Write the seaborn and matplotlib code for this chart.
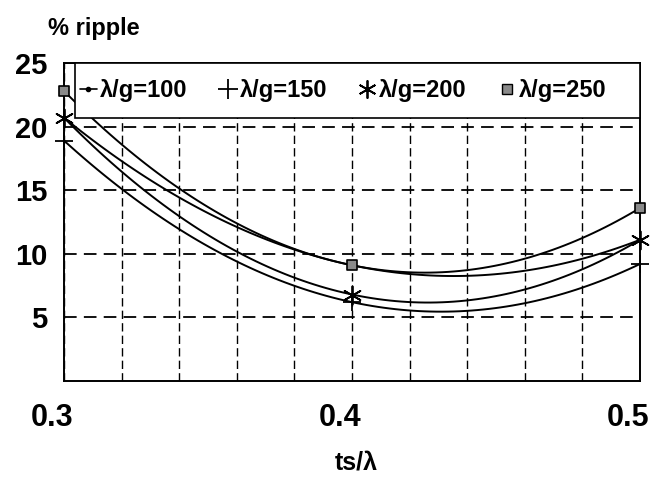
import numpy as np
import pandas as pd
import matplotlib
matplotlib.use("Agg")
import matplotlib.pyplot as plt
import matplotlib.transforms as mtransforms
import matplotlib.patches as mpatches
from matplotlib.lines import Line2D
import seaborn as sns

# ---- data ----
ts_ratio = [0.3, 0.4, 0.5]
ripple_100 = [20.7, 9.1, 11.1]
ripple_150 = [18.9, 6.2, 9.2]
ripple_200 = [20.7, 6.8, 11.1]
ripple_250 = [22.8, 9.1, 13.6]
series_labels = ["λ/g=100", "λ/g=150", "λ/g=200", "λ/g=250"]
x_ticks = [0.3, 0.4, 0.5]
x_tick_labels = ["0.3", "0.4", "0.5"]
y_ticks = [5, 10, 15, 20, 25]
y_tick_labels = ["5", "10", "15", "20", "25"]

sns.set_theme(style="white")
plt.rcParams["font.family"] = ["Liberation Sans", "DejaVu Sans"]
plt.rcParams["font.weight"] = "bold"
plt.rcParams["text.color"] = "black"
plt.rcParams["xtick.color"] = "black"
plt.rcParams["ytick.color"] = "black"
plt.rcParams["xtick.labelcolor"] = "black"
plt.rcParams["ytick.labelcolor"] = "black"

fig = plt.figure(figsize=(6.5, 4.79), dpi=100)
W, H = 650, 479
ax = fig.add_axes([64 / W, (H - 381) / H, (640 - 64) / W, (381 - 63) / H])

series = [ripple_100, ripple_150, ripple_200, ripple_250]
marker_styles = [
    dict(marker="o", s=10, color="black", linewidth=0),
    dict(marker="+", s=170, color="black", linewidth=1.3),
    dict(marker=(6, 2, 0), s=170, color="black", linewidth=1.3),
    dict(marker="s", s=55, color="#8a8a8a", edgecolor="black", linewidth=1.2),
]

for vals, ms in zip(series, marker_styles):
    df = pd.DataFrame({"x": ts_ratio, "y": vals})
    sns.regplot(data=df, x="x", y="y", order=2, ci=None, scatter=False,
                truncate=True, ax=ax,
                line_kws=dict(color="black", lw=1.4, zorder=3))
    sns.scatterplot(data=df, x="x", y="y", ax=ax, zorder=4, clip_on=False,
                    legend=False, **ms)

ax.set_xlim(0.3, 0.5)
ax.set_ylim(0, 25)
ax.set_xlabel("")
ax.set_ylabel("")

ax.set_xticks(x_ticks)
ax.set_xticklabels(x_tick_labels)
ax.set_xticks(np.linspace(0.3, 0.5, 11), minor=True)
ax.set_yticks(y_ticks)
ax.set_yticklabels(y_tick_labels)

ax.tick_params(axis="both", which="both", length=0)
ax.tick_params(axis="x", pad=16, labelsize=22)
ax.tick_params(axis="y", pad=12, labelsize=21)
for lab in ax.get_xticklabels():
    lab.set_fontweight("heavy")
    lab.set_color("black")
    lab.set_transform(lab.get_transform() +
                      mtransforms.ScaledTranslation(-12 / 100, 0, fig.dpi_scale_trans))
for lab in ax.get_yticklabels():
    lab.set_fontweight("heavy")
    lab.set_color("black")

ax.grid(False)
ax.grid(True, which="both", axis="x", color="black", lw=1.0, ls=(0, (6, 3)))
ax.grid(True, which="major", axis="y", color="black", lw=1.3, ls=(0, (7, 4)))

for sp in ax.spines.values():
    sp.set_visible(True)
    sp.set_color("black")
    sp.set_linewidth(1.4)

# legend box (frame drawn as a rectangle spanning the top of the plot)
box_x0 = (75 - 64) / 576
box_y0 = (381 - 118) / 318
frame = mpatches.Rectangle((box_x0, box_y0), 1 - box_x0, 1 - box_y0,
                           transform=ax.transAxes, facecolor="white",
                           edgecolor="black", linewidth=1.2, zorder=9,
                           clip_on=False)
ax.add_patch(frame)

handles = [
    Line2D([], [], color="black", lw=1.2, marker="o", markersize=3),
    Line2D([], [], color="black", lw=0, marker="+", markersize=14, markeredgewidth=1.3),
    Line2D([], [], color="black", lw=0, marker=(6, 2, 0), markersize=13, markeredgewidth=1.3),
    Line2D([], [], color="black", lw=0, marker="s", markersize=7,
           markerfacecolor="#8a8a8a", markeredgecolor="black"),
]
leg = ax.legend(handles, series_labels, loc="center left",
                bbox_to_anchor=((80 - 64) / 576, (381 - 91) / 318),
                ncol=4, frameon=False, borderaxespad=0, borderpad=0,
                handlelength=0.7, handletextpad=0.15, columnspacing=1.35,
                prop=dict(family="Liberation Sans", weight="bold", size=17))
for t in leg.get_texts():
    t.set_color("black")
leg.set_zorder(10)

fig.text(48 / W, 1 - 35 / H, "% ripple", fontsize=17, fontweight="bold",
         color="black", ha="left", va="baseline")
fig.text(356 / W, 1 - 470 / H, "ts/λ", fontsize=18, fontweight="bold",
         color="black", ha="center", va="baseline")

fig.savefig("out.png", dpi=100)
